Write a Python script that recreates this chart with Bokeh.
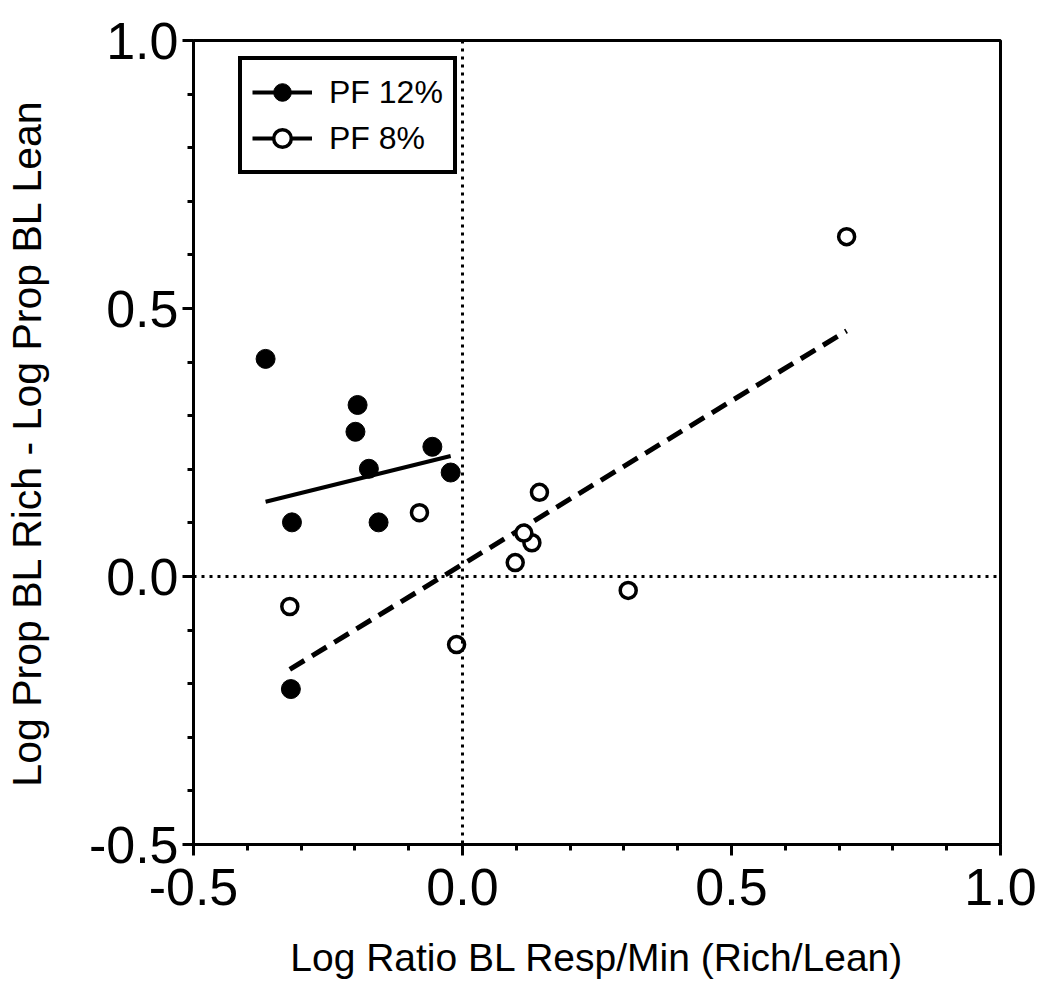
import numpy as np
from bokeh.plotting import figure
from bokeh.models import (Range1d, FixedTicker, PrintfTickFormatter, Span,
                          Legend, LegendItem)
from bokeh.embed import file_html
from bokeh.resources import INLINE

# ---- data ----
pf12_x = [-0.366, -0.195, -0.199, -0.174, -0.056, -0.022, -0.317, -0.156, -0.319]
pf12_y = [0.406, 0.320, 0.270, 0.201, 0.242, 0.194, 0.101, 0.101, -0.210]
pf8_x = [-0.080, -0.321, -0.011, 0.143, 0.129, 0.114, 0.098, 0.308, 0.714]
pf8_y = [0.119, -0.056, -0.127, 0.157, 0.063, 0.081, 0.026, -0.026, 0.634]

series_labels = ["PF 12%", "PF 8%"]
major_ticks = [-0.5, 0.0, 0.5, 1.0]
minor_ticks = [-0.4, -0.3, -0.2, -0.1, 0.1, 0.2, 0.3, 0.4, 0.6, 0.7, 0.8, 0.9]
x_label = "Log Ratio BL Resp/Min (Rich/Lean)"
y_label = "Log Prop BL Rich - Log Prop BL Lean"

FONT = "Liberation Sans"

p = figure(width=1043, height=981, output_backend="svg", toolbar_location=None,
           x_range=Range1d(-0.5, 1.0), y_range=Range1d(-0.5, 1.0),
           min_border_left=192, min_border_right=43, min_border_top=40,
           min_border_bottom=135)

p.grid.visible = False
p.background_fill_color = "white"
p.border_fill_color = "white"
p.outline_line_color = "black"
p.outline_line_width = 3

for ax in (p.xaxis[0], p.yaxis[0]):
    ax.ticker = FixedTicker(ticks=major_ticks, minor_ticks=minor_ticks)
    ax.formatter = PrintfTickFormatter(format="%.1f")
    ax.axis_line_width = 3
    ax.axis_line_color = "black"
    ax.major_tick_line_width = 3
    ax.major_tick_in = 0
    ax.major_tick_out = 11
    ax.minor_tick_line_width = 3
    ax.minor_tick_in = 0
    ax.minor_tick_out = 6
    ax.major_label_text_font = FONT
    ax.major_label_text_font_size = "52px"
    ax.major_label_text_color = "black"
    ax.axis_label_text_font = FONT
    ax.axis_label_text_font_style = "normal"
    ax.axis_label_text_color = "black"

p.xaxis.axis_label = x_label
p.yaxis.axis_label = y_label
p.xaxis.axis_label_text_font_size = "39px"
p.yaxis.axis_label_text_font_size = "41px"
p.xaxis.major_label_standoff = 13
p.yaxis.major_label_standoff = 4
p.xaxis.axis_label_standoff = 28
p.yaxis.axis_label_standoff = 36

# zero lines
p.add_layout(Span(location=0, dimension="height", line_color="black",
                  line_width=3, line_dash="3 5"))
p.add_layout(Span(location=0, dimension="width", line_color="black",
                  line_width=3, line_dash="3 5"))

# linear fits
s12, i12 = np.polyfit(pf12_x, pf12_y, 1)
s8, i8 = np.polyfit(pf8_x, pf8_y, 1)
fx12 = [min(pf12_x), max(pf12_x)]
fx8 = [min(pf8_x), max(pf8_x)]
p.line(fx12, [s12 * v + i12 for v in fx12], line_color="black", line_width=4)
p.line(fx8, [s8 * v + i8 for v in fx8], line_color="black", line_width=5,
       line_dash="17 9")

# points
p.scatter(pf12_x, pf12_y, marker="circle", size=19, fill_color="black",
          line_color="black", line_width=1)
p.scatter(pf8_x, pf8_y, marker="circle", size=16, fill_color="white",
          line_color="black", line_width=3.5)

# legend-only glyphs (NaN data, so nothing is drawn in the plot area)
nan2 = [np.nan, np.nan]
l12 = p.line(nan2, nan2, line_color="black", line_width=4)
m12 = p.scatter(nan2, nan2, marker="circle", size=19, fill_color="black",
                line_color="black", line_width=1)
l8 = p.line(nan2, nan2, line_color="black", line_width=4)
m8 = p.scatter(nan2, nan2, marker="circle", size=16, fill_color="white",
               line_color="black", line_width=3.5)

legend = Legend(items=[LegendItem(label=series_labels[0], renderers=[l12, m12], index=0),
                       LegendItem(label=series_labels[1], renderers=[l8, m8], index=0)],
                location=(45, 670))
legend.border_line_color = "black"
legend.border_line_alpha = 1
legend.border_line_width = 4
legend.background_fill_color = "white"
legend.background_fill_alpha = 1
legend.label_text_font = FONT
legend.label_text_font_size = "32px"
legend.label_text_color = "black"
legend.glyph_height = 44
legend.glyph_width = 60
legend.label_height = 44
legend.spacing = 2
legend.padding = 10
legend.label_standoff = 17
legend.margin = 0
p.add_layout(legend)

open("out.html", "w").write(file_html(p, INLINE))
